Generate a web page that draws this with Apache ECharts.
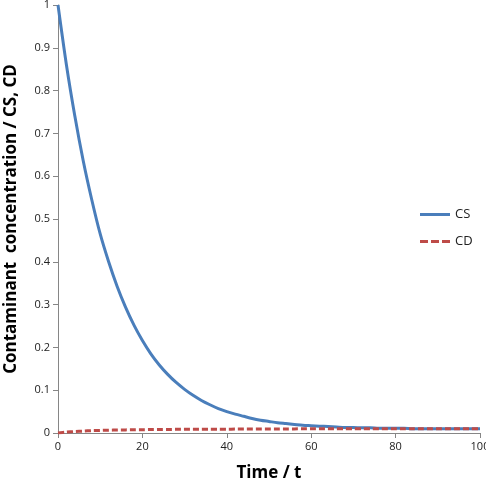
<!DOCTYPE html><html><head><meta charset="utf-8"><script src="https://cdn.jsdelivr.net/npm/echarts@6/dist/echarts.min.js"></script>
<style>body{margin:0}#c{width:486px;height:490px}</style></head><body><div id="c"></div><script>
const times=[0,2,4,6,8,10,12,14,16,18,20,22,24,26,28,30,32,34,36,38,40,42,44,46,48,50,52,54,56,58,60,62,64,66,68,70,72,74,76,78,80,82,84,86,88,90,92,94,96,98,100];
const cs=[1,0.86,0.74,0.635,0.545,0.465,0.40,0.343,0.294,0.252,0.216,0.185,0.159,0.137,0.118,0.102,0.088,0.076,0.066,0.057,0.050,0.044,0.039,0.034,0.030,0.027,0.024,0.022,0.020,0.018,0.017,0.016,0.015,0.014,0.013,0.013,0.012,0.012,0.011,0.011,0.011,0.011,0.010,0.010,0.010,0.010,0.010,0.010,0.010,0.010,0.010];
const cd=[0,0.002,0.0035,0.0045,0.0055,0.006,0.0065,0.007,0.0073,0.0076,0.0078,0.008,0.0082,0.0084,0.0085,0.0086,0.0087,0.0088,0.0089,0.009,0.009,0.0091,0.0092,0.0093,0.0094,0.0095,0.0095,0.0096,0.0096,0.0097,0.0097,0.0098,0.0098,0.0098,0.0099,0.0099,0.0099,0.0099,0.01,0.01,0.01,0.01,0.01,0.01,0.01,0.01,0.01,0.01,0.01,0.01,0.01];
const ax={lineStyle:{color:'#868686'}};
echarts.init(document.getElementById('c')).setOption({
animation:false,
grid:{left:58,right:6,top:5,bottom:57,containLabel:false,outerBoundsMode:'none'},
legend:{orient:'vertical',left:415,top:203,itemGap:14,itemWidth:30,itemHeight:3,textStyle:{fontSize:13,color:'#222',fontFamily:'Open Sans'},data:[{name:'CS',icon:'rect'},{name:'CD',icon:'path://M0,0h8v3h-8zM11,0h8v3h-8zM22,0h8v3h-8z'}]},
xAxis:{type:'value',min:0,max:100,interval:20,axisLine:ax,axisTick:{lineStyle:{color:'#868686'}},splitLine:{show:false},axisLabel:{color:'#222',fontSize:11,fontFamily:'Open Sans'},name:'Time / t',nameLocation:'middle',nameGap:32,nameTextStyle:{fontSize:17,fontWeight:'bold',color:'#000',fontFamily:'Open Sans'}},
yAxis:{type:'value',min:0,max:1,interval:0.1,axisLine:{show:true,lineStyle:{color:'#868686'}},axisTick:{show:true,lineStyle:{color:'#868686'}},splitLine:{show:false},axisLabel:{color:'#222',fontSize:11,fontFamily:'Open Sans',formatter:v=>String(+v.toFixed(1))},name:'Contaminant  concentration / CS, CD',nameLocation:'middle',nameGap:38,nameTextStyle:{fontSize:17,fontWeight:'bold',color:'#000',fontFamily:'Open Sans'}},
series:[
{name:'CS',type:'line',data:times.map((t,i)=>[t,cs[i]]),smooth:0.3,showSymbol:false,lineStyle:{color:'#4a7ebb',width:3},itemStyle:{color:'#4a7ebb'}},
{name:'CD',type:'line',data:times.map((t,i)=>[t,cd[i]]),smooth:0.3,showSymbol:false,lineStyle:{color:'#be4b48',width:3,type:[6,3]},itemStyle:{color:'#be4b48'}}
]});
</script></body></html>
